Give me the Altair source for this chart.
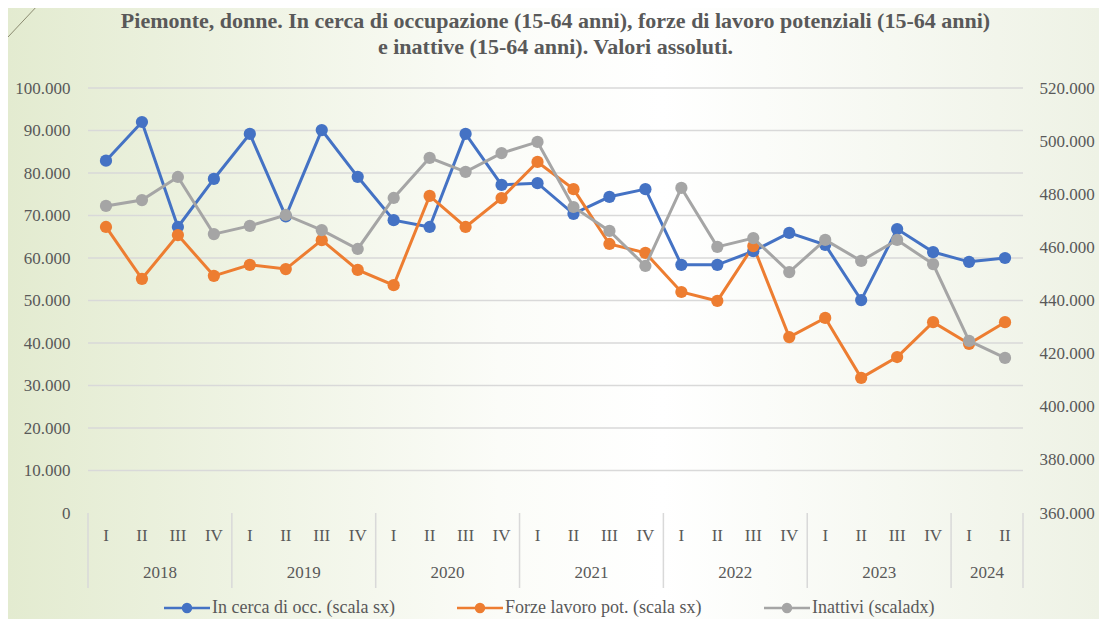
import altair as alt
import pandas as pd

years = ["2018"] * 4 + ["2019"] * 4 + ["2020"] * 4 + ["2021"] * 4 + ["2022"] * 4 + ["2023"] * 4 + ["2024"] * 2
quarters = ["I", "II", "III", "IV"] * 6 + ["I", "II"]

in_cerca = [82900, 92000, 67300, 78600, 89200, 69800, 90100, 79100, 68900, 67300, 89200, 77200,
            77600, 70400, 74400, 76200, 58400, 58400, 61600, 65900, 63100, 50100, 66800, 61400,
            59100, 60000]
forze_pot = [67300, 55100, 65400, 55800, 58400, 57400, 64200, 57200, 53600, 74600, 67300, 74100,
             82600, 76200, 63300, 61200, 52000, 49900, 62800, 41400, 45900, 31800, 36700, 44900,
             39800, 44900]
inattivi = [475600, 477800, 486500, 465000, 468100, 472200, 466500, 459400, 478600, 493700, 488400, 495500,
            499700, 475200, 466200, 453000, 482400, 460200, 463500, 450700, 462800, 454900, 462800, 453700,
            424800, 418400]

series_names = ["In cerca di occ. (scala sx)", "Forze lavoro pot. (scala sx)", "Inattivi (scaladx)"]
series_colors = ["#4472C4", "#ED7D31", "#A5A5A5"]

title_lines = ["Piemonte, donne. In cerca di occupazione (15-64 anni), forze di lavoro potenziali (15-64 anni)",
               "e inattive (15-64 anni). Valori assoluti."]

left_ticks = list(range(0, 100001, 10000))
right_ticks = list(range(360000, 520001, 20000))

W, H = 935, 425
FONT = "Liberation Serif"
GREY_TXT = "#595959"

n = len(years)
base = pd.DataFrame({"idx": [i + 0.5 for i in range(n)], "year": years, "quarter": quarters})

left_df = pd.concat([
    base.assign(serie=series_names[0], val=in_cerca),
    base.assign(serie=series_names[1], val=forze_pot),
])
right_df = base.assign(serie=series_names[2], val=inattivi)

year_pos = base.groupby("year", as_index=False)["idx"].mean()
bounds = [0, 4, 8, 12, 16, 20, 24, 26]
bounds_df = pd.DataFrame({"b": bounds})
grid_df = pd.DataFrame({"val": left_ticks[1:]})
title_df = pd.DataFrame({"line": [0, 1], "text": title_lines})

xscale = alt.Scale(domain=[0, n], nice=False, zero=False)
color = alt.Color("serie:N", scale=alt.Scale(domain=series_names, range=series_colors),
                  legend=alt.Legend(title=None, orient="none", direction="horizontal",
                                    legendX=90, legendY=511,
                                    symbolType="M-5.75,0L5.75,0M-1,0A1,1,0,1,1,1,0A1,1,0,1,1,-1,0Z",
                                    symbolSize=64, symbolStrokeWidth=2.5, labelLimit=400,
                                    labelFont=FONT, labelFontSize=18, labelColor=GREY_TXT,
                                    labelOffset=16, columnPadding=57, padding=0, zindex=2))

lab_expr = "replace(format(datum.value, ','), ',', '.')"

left_scale = alt.Scale(domain=[0, 100000], nice=False)
left_y = alt.Y("val:Q", scale=left_scale,
               axis=alt.Axis(orient="left", values=left_ticks, labelExpr=lab_expr,
                             title=None, ticks=False, domain=False, grid=False,
                             labelFont=FONT, labelFontSize=17, labelColor=GREY_TXT,
                             labelPadding=18, zindex=2))
right_y = alt.Y("val:Q", scale=alt.Scale(domain=[360000, 520000], nice=False, zero=False),
                axis=alt.Axis(orient="right", values=right_ticks, labelExpr=lab_expr,
                              title=None, ticks=False, domain=False, grid=False,
                              labelFont=FONT, labelFontSize=17, labelColor=GREY_TXT,
                              labelPadding=16, zindex=2))

x_enc = alt.X("idx:Q", scale=xscale,
              axis=alt.Axis(title=None, labels=False, ticks=False, grid=False,
                            domainColor="#d9d9d9", domainWidth=1.5, zindex=2))

grid = alt.Chart(grid_df).mark_rule(color="#d9d9d9", strokeWidth=1.5).encode(
    y=left_y, x=alt.value(0), x2=alt.value(W))

left = alt.layer(
    grid,
    alt.Chart(left_df).mark_line(strokeWidth=3).encode(x=x_enc, y=left_y, color=color,
                                                       detail="serie:N"),
    alt.Chart(left_df).mark_point(filled=True, size=150, opacity=1).encode(x=x_enc, y=left_y,
                                                                           color=color),
)
right = alt.layer(
    alt.Chart(right_df).mark_line(strokeWidth=3).encode(x=x_enc, y=right_y, color=color),
    alt.Chart(right_df).mark_point(filled=True, size=150, opacity=1).encode(x=x_enc, y=right_y, color=color),
)

bg = alt.Chart(pd.DataFrame({"a": [0]})).mark_rect(
    color=alt.LinearGradient(gradient="linear", x1=0, x2=1, y1=0, y2=0,
                             stops=[alt.GradientStop(offset=0, color="#e3ebd0"),
                                    alt.GradientStop(offset=0.45, color="#fbfcf8"),
                                    alt.GradientStop(offset=0.6, color="#ffffff"),
                                    alt.GradientStop(offset=1, color="#eef2e5")])
).encode(x=alt.value(-80), x2=alt.value(W + 76), y=alt.value(-80), y2=alt.value(H + 106))

corner = alt.Chart(pd.DataFrame({"a": [0]})).mark_rule(color="#8a8a70", strokeWidth=1).encode(
    x=alt.value(-80), y=alt.value(-51), x2=alt.value(-49), y2=alt.value(-84))

title = alt.Chart(title_df).mark_text(font=FONT, fontSize=22, fontWeight="bold", color=GREY_TXT,
                                      baseline="middle", align="center").encode(
    x=alt.value(W / 2),
    y=alt.Y("line:Q", scale=alt.Scale(domain=[0, 1], range=[-67, -41]), axis=None),
    text="text:N")

seps = alt.Chart(bounds_df).mark_rule(color="#d9d9d9", strokeWidth=1.5).encode(
    x=alt.X("b:Q", scale=xscale, axis=None), y=alt.value(H), y2=alt.value(H + 75))

qlabels = alt.Chart(base).mark_text(font=FONT, fontSize=17, color=GREY_TXT, baseline="middle").encode(
    x=alt.X("idx:Q", scale=xscale, axis=None), y=alt.value(H + 23), text="quarter:N")

ylabels = alt.Chart(year_pos).mark_text(font=FONT, fontSize=17, color=GREY_TXT, baseline="middle").encode(
    x=alt.X("idx:Q", scale=xscale, axis=None), y=alt.value(H + 60), text="year:N")

chart = alt.layer(bg, corner, title, seps, qlabels, ylabels, left, right).resolve_scale(
    y="independent"
).properties(
    width=W, height=H,
    autosize=alt.AutoSizeParams(type="none"),
    padding={"left": 80, "top": 80, "right": 76, "bottom": 106},
).configure_view(stroke=None).configure(background="#ffffff")

chart.save("out.html", embed_options={"renderer": "svg", "actions": False})
